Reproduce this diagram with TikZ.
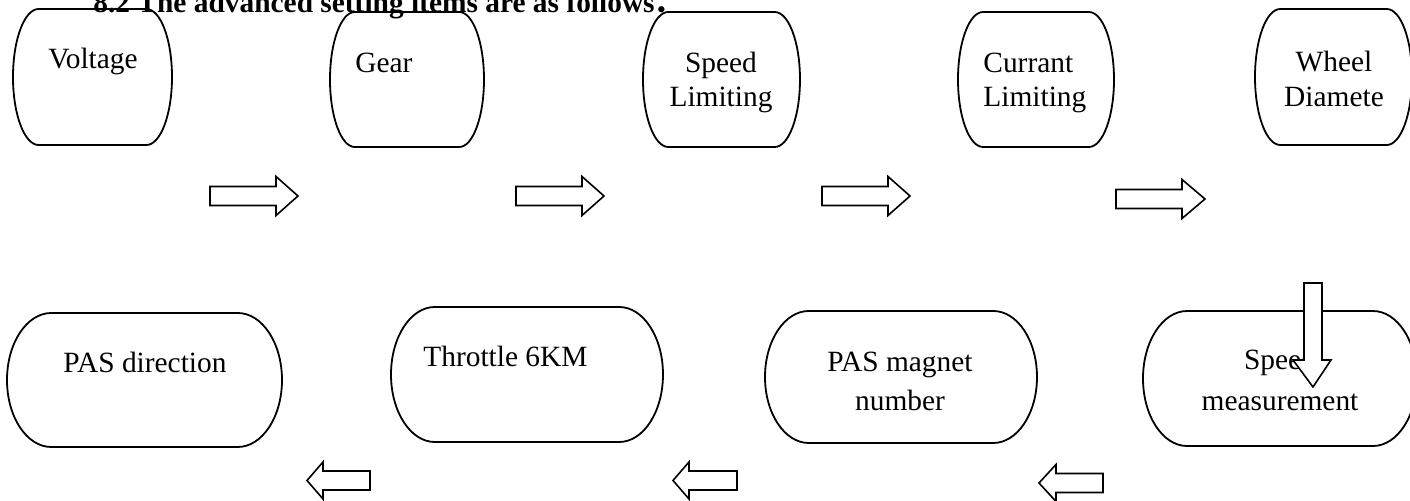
\documentclass[tikz,border=0pt]{standalone}
\usepackage{fontspec}
\setmainfont{Liberation Serif}
\newfontfamily\cjkfont{Noto Sans CJK SC}
\tikzset{
  termline/.style={draw, line width=0.9pt},
  lbl/.style={font=\fontsize{14.7pt}{17pt}\selectfont, inner sep=0pt},
  blk/.style={draw, fill=white, line width=0.8pt, line join=miter},
}
% terminator outline: x0 y0 x1 y1 (pixels, y downwards)
\newcommand\termbox[4]{%
  \pgfmathsetmacro\trx{0.161*(#3-#1)}%
  \pgfmathsetmacro\try{(#4-#2)/2}%
  \draw[termline] (#1+\trx,#2) -- (#3-\trx,#2)
    arc[start angle=-90,end angle=90,x radius=\trx,y radius=\try]
    -- (#1+\trx,#4)
    arc[start angle=90,end angle=270,x radius=\trx,y radius=\try] -- cycle;}
% right block arrow: shaft-left x, base x, tip x, centre y
\newcommand\rblk[4]{%
  \draw[blk] (#1,#4-9.5) -- (#2,#4-9.5) -- (#2,#4-19.5) -- (#3,#4) -- (#2,#4+19.5)
    -- (#2,#4+9.5) -- (#1,#4+9.5) -- cycle;}
% left block arrow: tip x, base x, shaft-right x, centre y
\newcommand\lblk[4]{%
  \draw[blk] (#1,#4) -- (#2,#4-18.5) -- (#2,#4-9.5) -- (#3,#4-9.5) -- (#3,#4+9.5)
    -- (#2,#4+9.5) -- (#2,#4+18.5) -- cycle;}
\begin{document}
\begin{tikzpicture}[x=0.5pt,y=-0.5pt]
\useasboundingbox (0,0) rectangle (1410,501);
\node[anchor=base west, inner sep=0pt, font=\bfseries\fontsize{14.7pt}{17pt}\selectfont] (title) at (93,13)
  {8.2 The advanced setting items are as follows{\cjkfont ：}};

% top row
\termbox{13}{9}{172}{145}
\termbox{330}{12}{484}{147}
\termbox{643}{12}{800}{147}
\termbox{958}{12}{1114}{147}
\termbox{1255}{9}{1412}{145}
\node[lbl, anchor=base] (voltage) at (93,69) {Voltage};
\node[lbl, anchor=base west] (gear) at (355,73) {Gear};
\node[lbl, anchor=base] (speedA) at (721,73) {Speed};
\node[lbl, anchor=base] (speedB) at (721,107) {Limiting};
\node[lbl, anchor=base west] (currA) at (983,73) {Currant};
\node[lbl, anchor=base west] (currB) at (983,107) {Limiting};
\node[lbl, anchor=base] (wheelA) at (1334,72) {Wheel};
\node[lbl, anchor=base] (wheelB) at (1334,107) {Diamete};

% bottom row
\termbox{7}{313}{282}{447}
\termbox{391}{307}{663}{442}
\termbox{765}{311}{1037}{443}
\termbox{1143}{311}{1417}{446}
\node[lbl, anchor=base] (pasdir) at (145,373) {PAS direction};
\node[lbl, anchor=base west] (throttle) at (423,367) {Throttle 6KM};
\node[lbl, anchor=base] (pasmagA) at (900,372) {PAS magnet};
\node[lbl, anchor=base] (pasmagB) at (900,411) {number};
\node[lbl, anchor=base] (spdmA) at (1280,370) {Speed};
\node[lbl, anchor=base] (spdmB) at (1280,411) {measurement};

% arrows
\rblk{210}{276}{298}{196}
\rblk{516}{582}{604}{196}
\rblk{822}{888}{910}{196}
\rblk{1116}{1182}{1205}{199}
\draw[blk] (1304,283) -- (1322,283) -- (1322,360) -- (1331,360) -- (1313,387)
  -- (1293,360) -- (1304,360) -- cycle;
\lblk{307}{323}{370}{480.5}
\lblk{673}{689}{737}{480.5}
\lblk{1039}{1056}{1103}{483}
\end{tikzpicture}
\end{document}
